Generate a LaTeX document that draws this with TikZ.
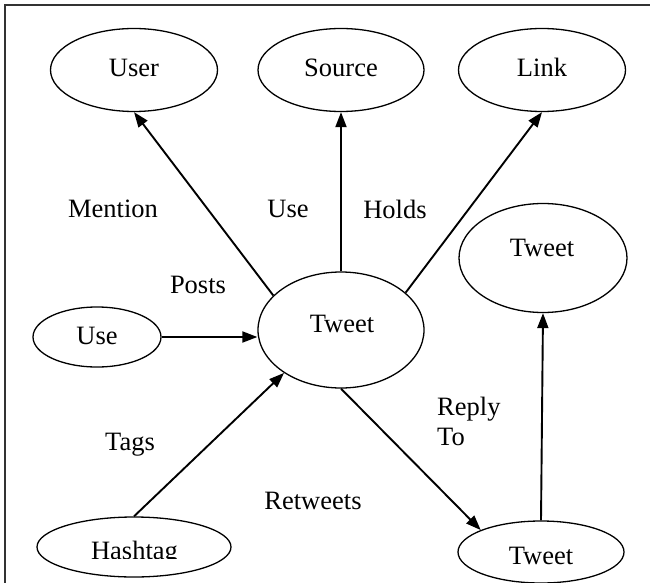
\documentclass[tikz,border=0pt]{standalone}
\usepackage{fontspec}
\setmainfont{Liberation Serif}
\usetikzlibrary{shapes.geometric,arrows.meta}
\begin{document}
\begin{tikzpicture}[x=1pt,y=-1pt,
  ell/.style={ellipse,draw,line width=1.3pt,inner sep=0pt},
  txt/.style={anchor=base,inner sep=0pt,font=\fontsize{26.5}{30}\selectfont},
  rel/.style={line width=1.9pt,-{Triangle[length=15pt,width=11pt]}}]
\clip (0,0) rectangle (650,583);
\draw[line width=2pt,black!80] (5,5) rectangle (670,600);
% ellipses
\node[ell,minimum width=167pt,minimum height=83pt] (user) at (134,70) {};
\node[ell,minimum width=166pt,minimum height=83pt] (src) at (341,70) {};
\node[ell,minimum width=167pt,minimum height=83pt] (link) at (542,70) {};
\node[ell,minimum width=168pt,minimum height=109pt] (tt) at (543,258) {};
\node[ell,minimum width=166pt,minimum height=116pt] (tw) at (341,330) {};
\node[ell,minimum width=128pt,minimum height=60pt] (use) at (97,337) {};
\node[ell,minimum width=194pt,minimum height=60pt] (hash) at (134,547) {};
\node[ell,minimum width=166pt,minimum height=62pt] (bt) at (541,552) {};
% node texts
\node[txt] (tuser) at (134,77) {User};
\node[txt] (tsrc) at (341,77) {Source};
\node[txt] (tlink) at (542,77) {Link};
\node[txt] (ttt) at (542,256) {Tweet};
\node[txt] (ttw) at (342,332) {Tweet};
\node[txt] (tuse) at (97,344) {Use};
\begin{scope}
\clip (30,520) rectangle (240,558);
\node[txt] (thash) at (134.5,559) {Hashtag};
\end{scope}
\node[txt] (tbt) at (541,564) {Tweet};
% edge labels
\node[txt] (lmention) at (113,217) {Mention};
\node[txt] (luse) at (288,217) {Use};
\node[txt] (lholds) at (395,218) {Holds};
\node[txt] (lposts) at (198,293) {Posts};
\node[txt] (ltags) at (130,450) {Tags};
\node[txt] (lretweets) at (313,509) {Retweets};
\node[txt,anchor=base west] (lreply) at (437,415) {Reply};
\node[txt,anchor=base west] (lto) at (437,445) {To};
% connectors
\draw[rel] (tw.153) -- (user.south);
\draw[rel] (tw.30) -- (link.south);
\draw[rel] (tw.north) -- (src.south);
\draw[rel] (use.east) -- (tw.west |- use.east);
\draw[rel] (hash.north) -- (tw.217);
\draw[rel] (tw.south) -- (bt.160);
\draw[rel] (bt.north) -- (tt.south);
\end{tikzpicture}
\end{document}
